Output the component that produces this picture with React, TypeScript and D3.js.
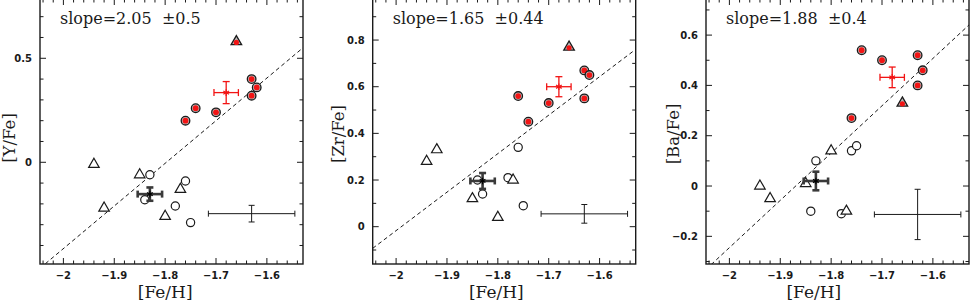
import React from 'react';
import * as d3 from 'd3';

// [Fe/H] of each star group (shared by all three panels)
const feRedCircles = [-1.76, -1.74, -1.70, -1.63, -1.62, -1.63];
const feOpenCircles = [-1.83, -1.84, -1.76, -1.78, -1.75];
const feOpenTriangles = [-1.94, -1.92, -1.85, -1.80, -1.77];
const feRedTriangle = [-1.66];

// [Y/Fe]
const yRedCircles = [0.20, 0.26, 0.24, 0.40, 0.36, 0.32];
const yOpenCircles = [-0.06, -0.18, -0.09, -0.21, -0.29];
const yOpenTriangles = [-0.01, -0.22, -0.06, -0.26, -0.13];
const yRedTriangle = [0.58];

// [Zr/Fe]
const zrRedCircles = [0.56, 0.45, 0.53, 0.67, 0.65, 0.55];
const zrOpenCircles = [0.14, 0.20, 0.34, 0.21, 0.09];
const zrOpenTriangles = [0.28, 0.33, 0.12, 0.04, 0.20];
const zrRedTriangle = [0.77];

// [Ba/Fe]
const baRedCircles = [0.27, 0.54, 0.50, 0.52, 0.46, 0.40];
const baOpenCircles = [0.10, -0.10, 0.14, -0.11, 0.16];
const baOpenTriangles = [0.00, -0.05, 0.01, 0.14, -0.10];
const baRedTriangle = [0.33];

// group means [value, err] and typical error bar
const redMeanFe = [-1.68, 0.024];
const blackMeanFe = [-1.83, 0.024];
const typErrFe = [-1.63, 0.085];
const redMeanY = [0.335, 0.053], blackMeanY = [-0.153, 0.032], typErrY = [-0.247, 0.04];
const redMeanZr = [0.60, 0.043], blackMeanZr = [0.196, 0.034], typErrZr = [0.055, 0.04];
const redMeanBa = [0.432, 0.041], blackMeanBa = [0.02, 0.037], typErrBa = [-0.113, 0.1];

// fits: slope, intercept, label
const fitY = { slope: 2.05, icpt: 3.685, label: 'slope=2.05  \u00b10.5' };
const fitZr = { slope: 1.65, icpt: 3.283, label: 'slope=1.65  \u00b10.44' };
const fitBa = { slope: 1.88, icpt: 3.515, label: 'slope=1.88  \u00b10.4' };

const xTicks = [-2, -1.9, -1.8, -1.7, -1.6];

const panels = [
  { left: 40, yDomain: [-0.489, 0.785], major: 0.5, minor: 0.1, ylab: '[Y/Fe]', ylabY: 138, ylabX: -25, xlabX: -1.80,
    rc: yRedCircles, oc: yOpenCircles, ot: yOpenTriangles, rt: yRedTriangle,
    rm: redMeanY, bm: blackMeanY, te: typErrY, fit: fitY },
  { left: 372.7, yDomain: [-0.16, 0.976], major: 0.2, minor: 0.1, ylab: '[Zr/Fe]', ylabY: 134, ylabX: -29, xlabX: -1.803,
    rc: zrRedCircles, oc: zrOpenCircles, ot: zrOpenTriangles, rt: zrRedTriangle,
    rm: redMeanZr, bm: blackMeanZr, te: typErrZr, fit: fitZr },
  { left: 706, yDomain: [-0.31, 0.7435], major: 0.2, minor: 0.1, ylab: '[Ba/Fe]', ylabY: 134, ylabX: -27, xlabX: -1.834,
    rc: baRedCircles, oc: baOpenCircles, ot: baOpenTriangles, rt: baRedTriangle,
    rm: redMeanBa, bm: blackMeanBa, te: typErrBa, fit: fitBa },
];

const W = 263;
const TOP = -1;
const BOTTOM = 264;
const H = BOTTOM - TOP;
const RED = '#f21414';
const INK = '#1a1a1a';

const fmt = (v: number) => d3.format('')(+v.toFixed(2)).replace('-', '\u2212');

const triPath = d3.symbol(d3.symbolTriangle, 48)();
const starPath = d3.symbol(d3.symbolAsterisk, 30)();

const ErrBar = ({ x, y, xs, ys, color, width, cap }: any) => {
  const cx = x(xs[0]), cy = y(ys[0]);
  const x0 = x(xs[0] - xs[1]), x1 = x(xs[0] + xs[1]);
  const y0 = y(ys[0] - ys[1]), y1 = y(ys[0] + ys[1]);
  return (
    <g stroke={color} strokeWidth={width} fill="none">
      <line x1={x0} x2={x1} y1={cy} y2={cy} />
      <line x1={cx} x2={cx} y1={y0} y2={y1} />
      <line x1={x0} x2={x0} y1={cy - cap} y2={cy + cap} />
      <line x1={x1} x2={x1} y1={cy - cap} y2={cy + cap} />
      <line x1={cx - cap} x2={cx + cap} y1={y0} y2={y0} />
      <line x1={cx - cap} x2={cx + cap} y1={y1} y2={y1} />
    </g>
  );
};

const Panel = ({ p, idx }: any) => {
  const x = d3.scaleLinear().domain([-2.046, -1.529]).range([0, W]);
  const y = d3.scaleLinear().domain(p.yDomain).range([H, 0]);
  const xMinor = d3.range(-2.04, -1.529, 0.02);
  const yMinor = d3.range(Math.ceil(p.yDomain[0] / p.minor) * p.minor, p.yDomain[1], p.minor);
  const yMajor = d3.range(Math.ceil(p.yDomain[0] / p.major) * p.major, p.yDomain[1], p.major);
  const isMajorX = (v: number) => Math.abs(v * 10 - Math.round(v * 10)) < 1e-6;
  const isMajorY = (v: number) => Math.abs(v / p.major - Math.round(v / p.major)) < 1e-6;
  const [xd0, xd1] = x.domain();
  const clipId = `clip${idx}`;
  return (
    <g transform={`translate(${p.left},${TOP})`}>
      <defs>
        <clipPath id={clipId}><rect width={W} height={H} /></clipPath>
      </defs>
      {/* ticks */}
      <g stroke={INK} strokeWidth={1}>
        {xMinor.map((v, i) => {
          const len = isMajorX(v) ? 6 : 3.5;
          return (
            <g key={i}>
              <line x1={x(v)} x2={x(v)} y1={H} y2={H - len} />
              <line x1={x(v)} x2={x(v)} y1={0} y2={len} />
            </g>
          );
        })}
        {yMinor.map((v, i) => {
          const len = isMajorY(v) ? 6 : 3.5;
          return (
            <g key={i}>
              <line x1={0} x2={len} y1={y(v)} y2={y(v)} />
              <line x1={W} x2={W - len} y1={y(v)} y2={y(v)} />
            </g>
          );
        })}
      </g>
      <g fontFamily="DejaVu Sans" fontSize={10} fontWeight="bold" fill={INK}>
        {xTicks.map((v) => (
          <text key={v} x={x(v)} y={H + 15} textAnchor="middle">{fmt(v)}</text>
        ))}
        {yMajor.map((v, i) => (
          <text key={i} x={-8} y={y(v) + 3.5} textAnchor="end">{fmt(v)}</text>
        ))}
      </g>
      {/* fit line */}
      <line clipPath={`url(#${clipId})`} x1={x(xd0)} y1={y(p.fit.slope * xd0 + p.fit.icpt)}
        x2={x(xd1)} y2={y(p.fit.slope * xd1 + p.fit.icpt)}
        stroke={INK} strokeWidth={1} strokeDasharray="4,3" />
      {/* open circles */}
      {p.oc.map((v: number, i: number) => (
        <circle key={'oc' + i} cx={x(feOpenCircles[i])} cy={y(v)} r={4.1} fill="white" stroke={INK} strokeWidth={1.2} />
      ))}
      {/* open triangles */}
      {p.ot.map((v: number, i: number) => (
        <path key={'ot' + i} d={triPath!} transform={`translate(${x(feOpenTriangles[i])},${y(v)})`}
          fill="white" stroke={INK} strokeWidth={1.2} />
      ))}
      {/* red circles */}
      {p.rc.map((v: number, i: number) => (
        <g key={'rc' + i} transform={`translate(${x(feRedCircles[i])},${y(v)})`}>
          <circle r={4.3} fill="#bbb" stroke={INK} strokeWidth={1.3} />
          <circle r={2.9} fill={RED} />
        </g>
      ))}
      {/* red triangle */}
      {p.rt.map((v: number, i: number) => (
        <g key={'rt' + i} transform={`translate(${x(feRedTriangle[i])},${y(v)})`}>
          <path d={triPath!} fill="#bbb" stroke={INK} strokeWidth={1.3} />
          <circle cy={0.8} r={2.6} fill={RED} />
        </g>
      ))}
      {/* means */}
      <ErrBar x={x} y={y} xs={blackMeanFe} ys={p.bm} color="#3a3a3a" width={2.6} cap={3.5} />
      <path d={starPath!} transform={`translate(${x(blackMeanFe[0])},${y(p.bm[0])})`} fill="none" stroke="#000" strokeWidth={1.2} />
      <ErrBar x={x} y={y} xs={redMeanFe} ys={p.rm} color={RED} width={1.3} cap={3.5} />
      <path d={starPath!} transform={`translate(${x(redMeanFe[0])},${y(p.rm[0])})`} fill="none" stroke={RED} strokeWidth={1.2} />
      {/* typical error */}
      <ErrBar x={x} y={y} xs={typErrFe} ys={p.te} color={INK} width={1} cap={3} />
      {/* frame */}
      <rect width={W} height={H} fill="none" stroke={INK} strokeWidth={1.4} />
      {/* labels */}
      <text x={20} y={24 - TOP} fontFamily="DejaVu Serif" fontSize={16} fill={INK} style={{ whiteSpace: 'pre' }}>
        {p.fit.label}
      </text>
      <text x={x(p.xlabX)} y={298 - TOP} textAnchor="middle" fontFamily="DejaVu Serif" fontSize={17} fill={INK}>[Fe/H]</text>
      <text transform={`translate(${p.ylabX},${p.ylabY - TOP}) rotate(-90)`}
        textAnchor="middle" fontFamily="DejaVu Serif" fontSize={16.5} fill={INK}>{p.ylab}</text>
    </g>
  );
};

export default function App() {
  return (
    <svg width={971} height={304} style={{ position: 'absolute', left: 0, top: 0, background: 'white' }}>
      <rect width={971} height={304} fill="white" />
      {panels.map((p, i) => <Panel key={i} p={p} idx={i} />)}
    </svg>
  );
}
